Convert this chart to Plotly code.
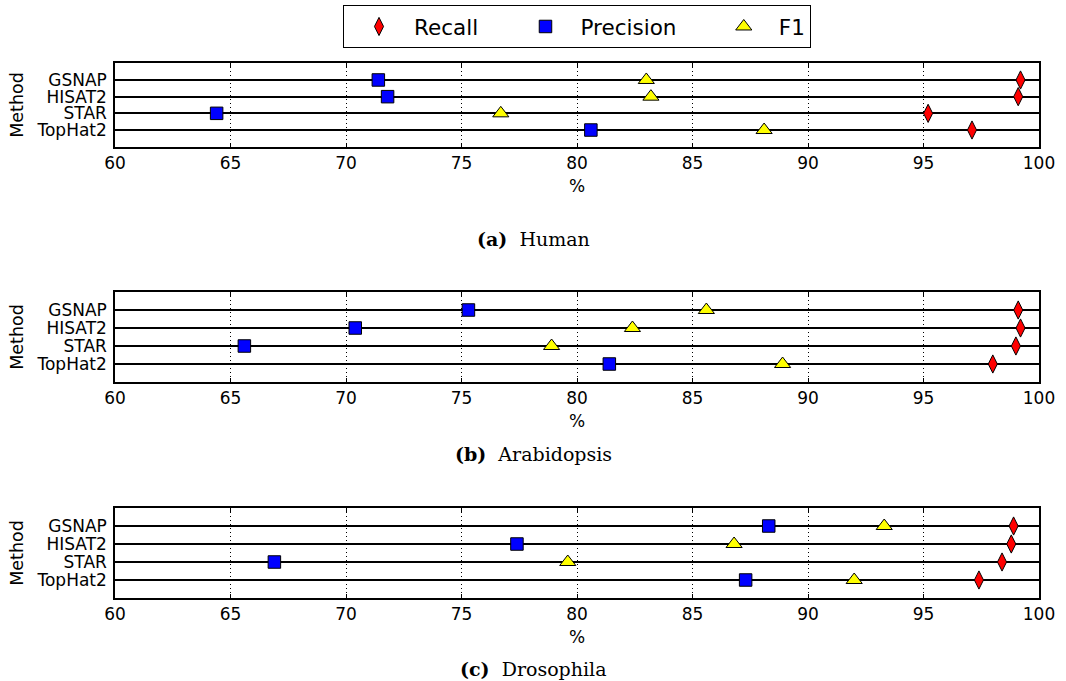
import plotly.graph_objects as go

methods = ["GSNAP", "HISAT2", "STAR", "TopHat2"]

human_recall = [99.2, 99.1, 95.2, 97.1]
human_precision = [71.4, 71.8, 64.4, 80.6]
human_f1 = [83.0, 83.2, 76.7, 88.1]

arab_recall = [99.1, 99.2, 99.0, 98.0]
arab_precision = [75.3, 70.4, 65.6, 81.4]
arab_f1 = [85.6, 82.4, 78.9, 88.9]

dros_recall = [98.9, 98.8, 98.4, 97.4]
dros_precision = [88.3, 77.4, 66.9, 87.3]
dros_f1 = [93.3, 86.8, 79.6, 92.0]

x_ticks = [60, 65, 70, 75, 80, 85, 90, 95, 100]
captions = ["<b>(a)</b>  Human", "<b>(b)</b>  Arabidopsis", "<b>(c)</b>  Drosophila"]

panels = [
    (human_recall, human_precision, human_f1),
    (arab_recall, arab_precision, arab_f1),
    (dros_recall, dros_precision, dros_f1),
]

W, H = 1066, 681
# pixel geometry of each panel (top, bottom)
panel_px = [(63.3, 146.7), (292.0, 382.0), (508.0, 598.0)]
caption_px = [239, 454, 669]
x_left, x_right = 115.0, 1039.0

NB = "\u00a0"
series_style = [
    ("Recall" + NB * 4, "#ff0000", "diamond-tall", 13),
    ("Precision" + NB * 4, "#0000ff", "square", 12.5),
    ("F1", "#ffff00", "triangle-up", 14),
]

fig = go.Figure()
for i, vals in enumerate(panels):
    sfx = "" if i == 0 else str(i + 1)
    for (name, color, sym, size), v in zip(series_style, vals):
        fig.add_trace(go.Scatter(
            x=v, y=methods, mode="markers", name=name,
            marker=dict(symbol=sym, size=size, color=color,
                        line=dict(color="black", width=1)),
            xaxis="x" + sfx, yaxis="y" + sfx,
            showlegend=(i == 0), cliponaxis=False,
        ))

layout = dict(
    width=W, height=H,
    margin=dict(l=0, r=0, t=0, b=0, autoexpand=False),
    paper_bgcolor="white", plot_bgcolor="white",
    font=dict(family="DejaVu Sans", color="black"),
    legend=dict(
        orientation="h", x=343 / W, y=1 - 5 / H, xanchor="left", yanchor="top",
        bordercolor="black", borderwidth=1, itemwidth=60,
        font=dict(size=21.5, family="DejaVu Sans"),
        bgcolor="white",
    ),
    annotations=[],
)

for i in range(3):
    sfx = "" if i == 0 else str(i + 1)
    top, bot = panel_px[i]
    layout["xaxis" + sfx] = dict(
        domain=[x_left / W, x_right / W], anchor="y" + sfx,
        range=[60, 100], tickmode="array", tickvals=x_ticks,
        showline=True, linecolor="black", linewidth=1.5, mirror="ticks",
        ticks="inside", ticklen=4, tickcolor="black",
        showgrid=True, gridcolor="black", griddash="1px,3px", gridwidth=1,
        zeroline=False, tickfont=dict(size=17), automargin=False,
        title=dict(text="%", font=dict(size=17), standoff=8),
    )
    layout["yaxis" + sfx] = dict(
        domain=[1 - bot / H, 1 - top / H], anchor="x" + sfx,
        type="category", categoryarray=methods[::-1], categoryorder="array",
        tickmode="array", tickvals=methods, ticktext=methods,
        range=[-1, 4],
        showline=True, linecolor="black", linewidth=1.5, mirror="ticks",
        ticks="", showgrid=True, gridcolor="black", gridwidth=1.5,
        zeroline=False, tickfont=dict(size=17), ticklabelstandoff=3,
        automargin=False,
        title=dict(text="Method", font=dict(size=17.5), standoff=8),
    )
    layout["annotations"].append(dict(
        text=captions[i], x=0.5, y=1 - caption_px[i] / H,
        xref="paper", yref="paper", xanchor="center", yanchor="middle",
        showarrow=False, font=dict(family="DejaVu Serif", size=19),
    ))

fig.update_layout(**layout)
fig.write_html("out.html")
